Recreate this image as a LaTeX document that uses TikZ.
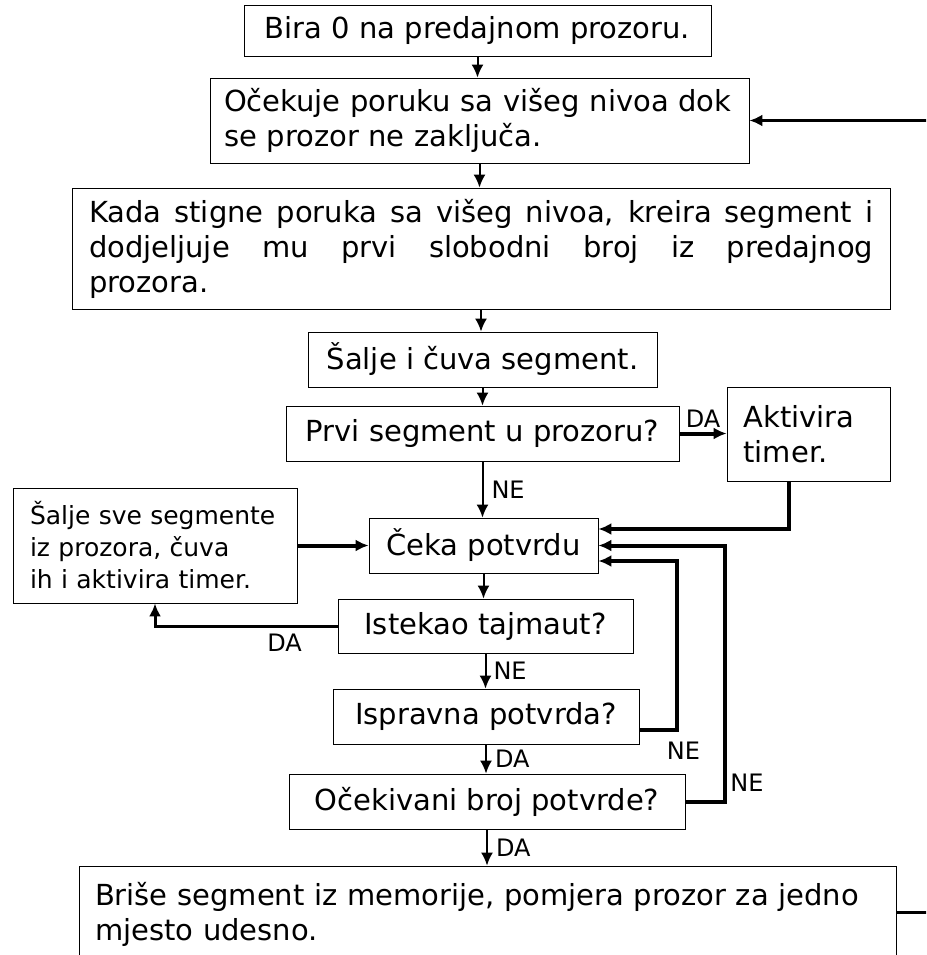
\documentclass[tikz,border=0pt]{standalone}
\usepackage{fontspec}
\setmainfont{DejaVu Sans}
\usetikzlibrary{arrows.meta}

\begin{document}
\begin{tikzpicture}[x=1pt,y=-1pt,>={Latex[length=13pt,width=12pt]},
    korak/.style={draw,line width=0.8pt,inner sep=0pt,font=\fontsize{29}{35}\selectfont},
    mali/.style={font=\fontsize{25}{32}\selectfont},
    oznaka/.style={font=\fontsize{24}{28}\selectfont,inner sep=2pt},
    tok/.style={->,line width=2pt},
    petlja/.style={->,line width=4pt}]
            \useasboundingbox (0,0) rectangle (926,955);
            \clip (0,0) rectangle (926,955);

            \node[korak,minimum width=467pt,minimum height=51pt] (bira) at (477.5,30.5) {Bira 0 na predajnom prozoru.};
            \node[korak,minimum width=539pt,minimum height=85pt,text width=511pt,align=left] (ocekuje) at (479.5,120.5) {Očekuje poruku sa višeg nivoa dok\\se prozor ne zaključa.};
            \node[korak,minimum width=818pt,minimum height=121pt,text width=784pt,align=justify] (kada) at (481,248.5) {Kada stigne poruka sa višeg nivoa, kreira segment i\linebreak dodjeljuje mu prvi slobodni broj iz predajnog\linebreak prozora.};
            \node[korak,minimum width=349pt,minimum height=55pt] (salje) at (482.5,359.5) {Šalje i čuva segment.};
            \node[korak,minimum width=393pt,minimum height=55pt] (prvi) at (482.5,433.5) {Prvi segment u prozoru?};
            \node[korak,minimum width=163pt,minimum height=94pt,text width=130pt,align=left] (aktivira) at (808.5,434) {Aktivira\\timer.};
            \node[korak,mali,minimum width=284pt,minimum height=115pt,text width=250pt,align=left] (saljesve) at (155,545.5) {Šalje sve segmente\\iz prozora, čuva\\ih i aktivira timer.};
            \node[korak,minimum width=229pt,minimum height=55pt] (ceka) at (483.5,545.5) {Čeka potvrdu};
            \node[korak,minimum width=295pt,minimum height=54pt] (istekao) at (485.5,626) {Istekao tajmaut?};
            \node[korak,minimum width=306pt,minimum height=55pt] (ispravna) at (486,716.5) {Ispravna potvrda?};
            \node[korak,minimum width=396pt,minimum height=55pt] (ocekivani) at (487,801.5) {Očekivani broj potvrde?};
            \node[korak,minimum width=817pt,minimum height=96pt,text width=785pt,align=left] (brise) at (487.5,914) {Briše segment iz memorije, pomjera prozor za jedno\\mjesto udesno.};

            \draw[tok] (bira.south)--(bira.south |- ocekuje.north);
            \draw[tok] (ocekuje.south)--(ocekuje.south |- kada.north);
            \draw[tok] (kada.south)--(kada.south |- salje.north);
            \draw[tok] (salje.south)--(salje.south |- prvi.north);
            \draw[tok] (prvi.south)--(prvi.south |- ceka.north)node[oznaka,midway,right=6pt]{NE};
            \draw[tok] (ceka.south)--(ceka.south |- istekao.north);
            \draw[tok] (istekao.south)--(istekao.south |- ispravna.north)node[oznaka,midway,right=5pt]{NE};
            \draw[tok] (ispravna.south)--(ispravna.south |- ocekivani.north)node[oznaka,midway,right=6pt]{DA};
            \draw[tok] (ocekivani.south)--(ocekivani.south |- brise.north)node[oznaka,midway,right=6pt]{DA};

            \draw[petlja] (prvi.east)--(prvi.east -| aktivira.west)node[oznaka,midway,above=2pt]{DA};
            \draw[petlja] ([xshift=-19.5pt]aktivira.south) |- ([yshift=16.5pt]ceka.east);
            \draw[petlja] (saljesve.east)--(ceka.west);
            \draw[->,line width=3pt] (istekao.west) -| node[oznaka,pos=0.145,below=4pt]{DA} (saljesve.south);
            \draw[petlja] ([yshift=-13.5pt]ispravna.east) -| node[oznaka,pos=0.5,below=8pt,xshift=6pt]{NE} ([xshift=79pt,yshift=-15.5pt]ceka.east)--([yshift=-15.5pt]ceka.east);
            \draw[petlja] (ocekivani.east) -| node[oznaka,pos=0.5,anchor=south west,xshift=1pt,yshift=6pt]{NE} ([xshift=127pt]ceka.east)--(ceka.east);
            \draw[->,line width=3pt] ([yshift=2pt]brise.east)--++(60,0) |- (ocekuje.east);
        \end{tikzpicture}
\end{document}
